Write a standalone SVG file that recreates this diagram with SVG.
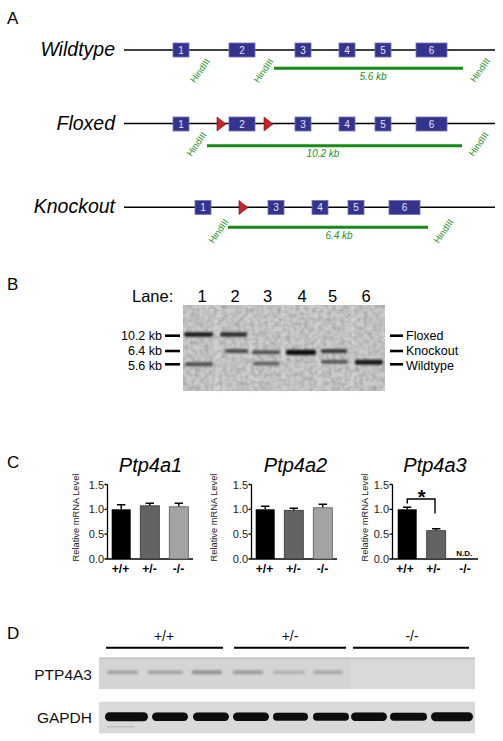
<svg xmlns="http://www.w3.org/2000/svg" width="503" height="741" viewBox="0 0 503 741">
<defs>
<style>
text{font-family:"Liberation Sans",Arial,sans-serif;}
.pl{font-size:17px;fill:#000}
.gene{font-style:italic;font-size:19.5px;text-anchor:end;fill:#000}
.dna{stroke:#000;stroke-width:1.6}
.exon{fill:#34348f;stroke:#7272b8;stroke-width:0.8}
.exn{fill:#e4e4f4;font-size:10px;text-anchor:middle}
.lox{fill:#cc2229;stroke:#6a1010;stroke-width:0.6}
.hind{fill:#229222;font-size:9.3px;text-anchor:middle}
.frag{stroke:#178a17;stroke-width:3}
.kb{fill:#229222;font-size:10px;font-style:italic;text-anchor:middle}
.gl{font-size:16.5px;text-anchor:middle}
.mk{font-size:12.5px}
.dash{stroke:#000;stroke-width:2.6}
.ax{stroke:#000;stroke-width:1.3;fill:none}
.tk{font-size:11px;text-anchor:end;fill:#222}
.yt{font-size:9.3px;text-anchor:middle;fill:#222}
.xl{font-size:12px;font-weight:bold;text-anchor:middle}
.ct{font-size:20px;font-style:italic;text-anchor:middle}
.err{stroke:#000;stroke-width:1.4;fill:none}
.blab{font-size:15.5px;text-anchor:end;fill:#111}
.grp{font-size:14px;text-anchor:middle;fill:#111}
.gline{stroke:#000;stroke-width:2}
</style>
<filter id="blur1" x="-20%" y="-100%" width="140%" height="300%"><feGaussianBlur stdDeviation="1"/></filter>
<filter id="blur2" x="-20%" y="-100%" width="140%" height="300%"><feGaussianBlur stdDeviation="0.7"/></filter>
<filter id="blur3" x="-50%" y="-20%" width="200%" height="140%"><feGaussianBlur stdDeviation="1.5"/></filter>
<filter id="noise" x="0" y="0" width="100%" height="100%">
<feTurbulence type="fractalNoise" baseFrequency="0.22" numOctaves="2" seed="4" result="t"/>
<feColorMatrix in="t" type="matrix" values="0 0 0 0 0  0 0 0 0 0  0 0 0 0 0  0.35 0 0 0 -0.12" result="n"/>
<feComposite in="n" in2="SourceGraphic" operator="in"/>
</filter>
</defs>
<rect width="503" height="741" fill="#fff"/>

<!-- Panel A -->
<g id="panelA">
<text class="pl" x="7" y="24">A</text>
<g id="wildtype">
<text class="gene" x="115" y="56">Wildtype</text>
<line class="dna" x1="124" y1="50" x2="495" y2="50"/>
<rect class="exon" x="173" y="43" width="16" height="14"/><text class="exn" x="181" y="53.5">1</text>
<rect class="exon" x="229" y="43" width="26" height="14"/><text class="exn" x="242" y="53.5">2</text>
<rect class="exon" x="295" y="43" width="16" height="14"/><text class="exn" x="303" y="53.5">3</text>
<rect class="exon" x="339" y="43" width="16" height="14"/><text class="exn" x="347" y="53.5">4</text>
<rect class="exon" x="375" y="43" width="16" height="14"/><text class="exn" x="383" y="53.5">5</text>
<rect class="exon" x="416" y="43" width="31" height="14"/><text class="exn" x="431.5" y="53.5">6</text>
<text class="hind" transform="translate(200,70.5) rotate(-55)" dy="0.35em">HindIII</text>
<text class="hind" transform="translate(263.5,70.5) rotate(-55)" dy="0.35em">HindIII</text>
<text class="hind" transform="translate(480,70) rotate(-55)" dy="0.35em">HindIII</text>
<line class="frag" x1="274" y1="68.3" x2="463" y2="68.3"/>
<text class="kb" x="373" y="79.5">5.6 kb</text>
</g>
<g id="floxed">
<text class="gene" x="115" y="130">Floxed</text>
<line class="dna" x1="124" y1="123.5" x2="495" y2="123.5"/>
<rect class="exon" x="173" y="117" width="16" height="14"/><text class="exn" x="181" y="127.5">1</text>
<polygon class="lox" points="217,117 226,124 217,131"/>
<rect class="exon" x="229" y="117" width="26" height="14"/><text class="exn" x="242" y="127.5">2</text>
<polygon class="lox" points="264,117 273,124 264,131"/>
<rect class="exon" x="295" y="117" width="16" height="14"/><text class="exn" x="303" y="127.5">3</text>
<rect class="exon" x="339" y="117" width="16" height="14"/><text class="exn" x="347" y="127.5">4</text>
<rect class="exon" x="375" y="117" width="16" height="14"/><text class="exn" x="383" y="127.5">5</text>
<rect class="exon" x="416" y="117" width="31" height="14"/><text class="exn" x="431.5" y="127.5">6</text>
<text class="hind" transform="translate(196.5,144) rotate(-55)" dy="0.35em">HindIII</text>
<text class="hind" transform="translate(478.5,144) rotate(-55)" dy="0.35em">HindIII</text>
<line class="frag" x1="207" y1="145.7" x2="462" y2="145.7"/>
<text class="kb" x="323" y="156.5">10.2 kb</text>
</g>
<g id="knockout">
<text class="gene" x="115" y="213">Knockout</text>
<line class="dna" x1="124" y1="207.3" x2="495" y2="207.3"/>
<rect class="exon" x="195" y="200.5" width="16" height="14"/><text class="exn" x="203" y="211">1</text>
<polygon class="lox" points="239,200.5 248,207.5 239,214.5"/>
<rect class="exon" x="268" y="200.5" width="16" height="14"/><text class="exn" x="276" y="211">3</text>
<rect class="exon" x="312" y="200.5" width="16" height="14"/><text class="exn" x="320" y="211">4</text>
<rect class="exon" x="348" y="200.5" width="16" height="14"/><text class="exn" x="356" y="211">5</text>
<rect class="exon" x="389" y="200.5" width="31" height="14"/><text class="exn" x="404.5" y="211">6</text>
<text class="hind" transform="translate(218.5,231) rotate(-55)" dy="0.35em">HindIII</text>
<text class="hind" transform="translate(443.5,231) rotate(-55)" dy="0.35em">HindIII</text>
<line class="frag" x1="228" y1="227.3" x2="428" y2="227.3"/>
<text class="kb" x="339" y="239">6.4 kb</text>
</g>
</g>

<!-- Panel B -->
<g id="panelB">
<text class="pl" x="7" y="290">B</text>
<text class="gl" x="132" y="302" style="text-anchor:start">Lane:</text>
<text class="gl" x="202" y="302">1</text>
<text class="gl" x="235" y="302">2</text>
<text class="gl" x="267.5" y="302">3</text>
<text class="gl" x="302" y="302">4</text>
<text class="gl" x="332.5" y="302">5</text>
<text class="gl" x="366" y="302">6</text>
<g id="gel">
<rect x="183" y="305" width="202" height="86" fill="#cbcbcb"/>
<g filter="url(#blur3)" fill="#d6d6d6">
<rect x="216" y="305" width="4" height="86"/>
<rect x="248.5" y="305" width="3" height="86"/>
<rect x="281.5" y="305" width="3" height="86"/>
<rect x="316.5" y="305" width="3" height="86"/>
<rect x="351" y="305" width="3" height="86"/>
</g>
<rect x="183" y="305" width="202" height="86" fill="#fff" filter="url(#noise)"/>
<g filter="url(#blur1)">
<rect x="184" y="332.3" width="29" height="4.5" rx="2" fill="#1e1e1e"/>
<rect x="185" y="362.3" width="28" height="4" rx="2" fill="#505050"/>
<rect x="220" y="332.3" width="27" height="4.5" rx="2" fill="#2e2e2e"/>
<rect x="225" y="349" width="23" height="4" rx="2" fill="#505050"/>
<rect x="252" y="350.3" width="28" height="4" rx="2" fill="#555"/>
<rect x="253" y="361.5" width="27" height="4" rx="2" fill="#666"/>
<rect x="286" y="349.8" width="30" height="5.2" rx="2" fill="#0c0c0c"/>
<rect x="321" y="349" width="26" height="4.2" rx="2" fill="#3e3e3e"/>
<rect x="321" y="359.8" width="27" height="4" rx="2" fill="#5a5a5a"/>
<rect x="355" y="359.8" width="28" height="5" rx="2" fill="#1e1e1e"/>
</g>
</g>
<g id="markersLeft">
<text class="mk" x="162" y="340" text-anchor="end">10.2 kb</text>
<text class="mk" x="162" y="355" text-anchor="end">6.4 kb</text>
<text class="mk" x="162" y="369.5" text-anchor="end">5.6 kb</text>
<line class="dash" x1="165" y1="335.7" x2="180" y2="335.7"/>
<line class="dash" x1="165" y1="351" x2="180" y2="351"/>
<line class="dash" x1="165" y1="364.3" x2="180" y2="364.3"/>
</g>
<g id="markersRight">
<line class="dash" x1="390" y1="335.7" x2="403" y2="335.7"/>
<line class="dash" x1="390" y1="351" x2="403" y2="351"/>
<line class="dash" x1="390" y1="364.3" x2="403" y2="364.3"/>
<text class="mk" x="406" y="340">Floxed</text>
<text class="mk" x="406" y="355">Knockout</text>
<text class="mk" x="406" y="369.5">Wildtype</text>
</g>
</g>

<!-- Panel C -->
<g id="panelC">
<text class="pl" x="7" y="468">C</text>
<g id="chart1">
<text class="ct" x="150.5" y="472">Ptp4a1</text>
<text class="yt" transform="translate(75.7,517.5) rotate(-90)" dy="0.35em">Relative mRNA Level</text>
<path class="ax" d="M107.5,484.5 V559 H193 M104.5,484.5 H107.5 M104.5,509.3 H107.5 M104.5,534.2 H107.5 M104.5,559 H107.5"/>
<text class="tk" x="104" y="488.5">1.5</text>
<text class="tk" x="104" y="513.3">1.0</text>
<text class="tk" x="104" y="538.2">0.5</text>
<text class="tk" x="104" y="563">0.0</text>
<path class="err" d="M121.2,509.3 V504.8 M117,504.8 H125.4 M149.8,505.8 V503.3 M145.6,503.3 H154 M178.8,506.8 V503.3 M174.6,503.3 H183"/>
<rect x="111.7" y="509.3" width="19" height="49.7" fill="#000"/>
<rect x="140.3" y="505.8" width="19" height="53.2" fill="#636363" stroke="#333" stroke-width="0.8"/>
<rect x="169.3" y="506.8" width="19" height="52.2" fill="#a3a3a3" stroke="#555" stroke-width="0.8"/>
<text class="xl" x="120.5" y="573">+/+</text>
<text class="xl" x="149.5" y="573">+/-</text>
<text class="xl" x="178.5" y="573">-/-</text>
</g>
<g id="chart2" transform="translate(144,0)">
<text class="ct" x="151.5" y="472">Ptp4a2</text>
<text class="yt" transform="translate(70,517.5) rotate(-90)" dy="0.35em">Relative mRNA Level</text>
<path class="ax" d="M107.5,484.5 V559 H193 M104.5,484.5 H107.5 M104.5,509.3 H107.5 M104.5,534.2 H107.5 M104.5,559 H107.5"/>
<text class="tk" x="104" y="488.5">1.5</text>
<text class="tk" x="104" y="513.3">1.0</text>
<text class="tk" x="104" y="538.2">0.5</text>
<text class="tk" x="104" y="563">0.0</text>
<path class="err" d="M121.2,509.3 V506.3 M117,506.3 H125.4 M149.8,510.3 V508.3 M145.6,508.3 H154 M178.8,507.8 V504.3 M174.6,504.3 H183"/>
<rect x="111.7" y="509.3" width="19" height="49.7" fill="#000"/>
<rect x="140.3" y="510.3" width="19" height="48.7" fill="#636363" stroke="#333" stroke-width="0.8"/>
<rect x="169.3" y="507.8" width="19" height="51.2" fill="#a3a3a3" stroke="#555" stroke-width="0.8"/>
<text class="xl" x="120.5" y="573">+/+</text>
<text class="xl" x="149.5" y="573">+/-</text>
<text class="xl" x="178.5" y="573">-/-</text>
</g>
<g id="chart3" transform="translate(285,0)">
<text class="ct" x="150" y="472">Ptp4a3</text>
<text class="yt" transform="translate(79.3,517.5) rotate(-90)" dy="0.35em">Relative mRNA Level</text>
<path class="ax" d="M107.5,484.5 V559 H193 M104.5,484.5 H107.5 M104.5,509.3 H107.5 M104.5,534.2 H107.5 M104.5,559 H107.5"/>
<text class="tk" x="104" y="488.5">1.5</text>
<text class="tk" x="104" y="513.3">1.0</text>
<text class="tk" x="104" y="538.2">0.5</text>
<text class="tk" x="104" y="563">0.0</text>
<path class="err" d="M122.2,509.3 V507.3 M118,507.3 H126.4 M151.2,530.7 V528.7 M147,528.7 H155.4"/>
<rect x="112.7" y="509.3" width="19" height="49.7" fill="#000"/>
<rect x="141.7" y="530.7" width="19" height="28.3" fill="#636363" stroke="#333" stroke-width="0.8"/>
<text x="179.3" y="555.7" font-size="8" font-weight="bold" text-anchor="middle">N.D.</text>
<path class="err" d="M122.3,503.5 V499 H150 V513.5" stroke-width="1.2"/>
<text x="136.7" y="504" font-size="20" font-weight="bold" text-anchor="middle">*</text>
<text class="xl" x="120" y="573">+/+</text>
<text class="xl" x="148.3" y="573">+/-</text>
<text class="xl" x="180" y="573">-/-</text>
</g>
</g>

<!-- Panel D -->
<g id="panelD">
<text class="pl" x="7" y="639">D</text>
<text class="grp" x="164" y="641">+/+</text>
<text class="grp" x="290" y="641">+/-</text>
<text class="grp" x="412" y="641">-/-</text>
<line class="gline" x1="106" y1="647.7" x2="223" y2="647.7"/>
<line class="gline" x1="234" y1="647.7" x2="346" y2="647.7"/>
<line class="gline" x1="353" y1="647.7" x2="469" y2="647.7"/>
<text class="blab" x="92" y="680">PTP4A3</text>
<text class="blab" x="92" y="723">GAPDH</text>
<g id="blotPTP4A3">
<rect x="99" y="657.5" width="376" height="31.5" fill="#d4d4d4"/>
<rect x="99" y="657.5" width="376" height="2" fill="#c8c8c8"/>
<rect x="350" y="659.5" width="125" height="29.5" fill="#d9d9d9"/>
<g filter="url(#blur1)">
<rect x="107" y="670.5" width="31" height="3.5" rx="1.5" fill="#a0a0a0"/>
<rect x="148" y="670.5" width="35" height="3.5" rx="1.5" fill="#a2a2a2"/>
<rect x="192" y="670.3" width="30" height="4" rx="1.5" fill="#939393"/>
<rect x="233" y="670.3" width="30" height="4" rx="1.5" fill="#9c9c9c"/>
<rect x="273" y="670.8" width="32" height="3.2" rx="1.5" fill="#aeaeae"/>
<rect x="313" y="670.5" width="30" height="3.5" rx="1.5" fill="#a6a6a6"/>
</g>
</g>
<g id="blotGAPDH">
<rect x="99" y="701.7" width="376" height="31.6" fill="#d9d9d9"/>
<g filter="url(#blur2)" fill="#0a0a0a">
<rect x="105" y="712.3" width="43" height="9" rx="4.5"/>
<rect x="152" y="712.5" width="36" height="8.5" rx="4.2"/>
<rect x="193" y="712.5" width="36" height="8.5" rx="4.2"/>
<rect x="233" y="712.5" width="36" height="8.5" rx="4.2"/>
<rect x="273" y="712.8" width="35" height="8" rx="4"/>
<rect x="313" y="712.8" width="36" height="8" rx="4"/>
<rect x="351" y="712.5" width="36" height="8.5" rx="4.2"/>
<rect x="390" y="712.8" width="37" height="8" rx="4"/>
<rect x="431" y="712.3" width="42" height="9" rx="4.5"/>
</g>
<rect x="107" y="726.3" width="28" height="1" fill="#b4b4b4" filter="url(#blur2)"/>
</g>
</g>
</svg>
